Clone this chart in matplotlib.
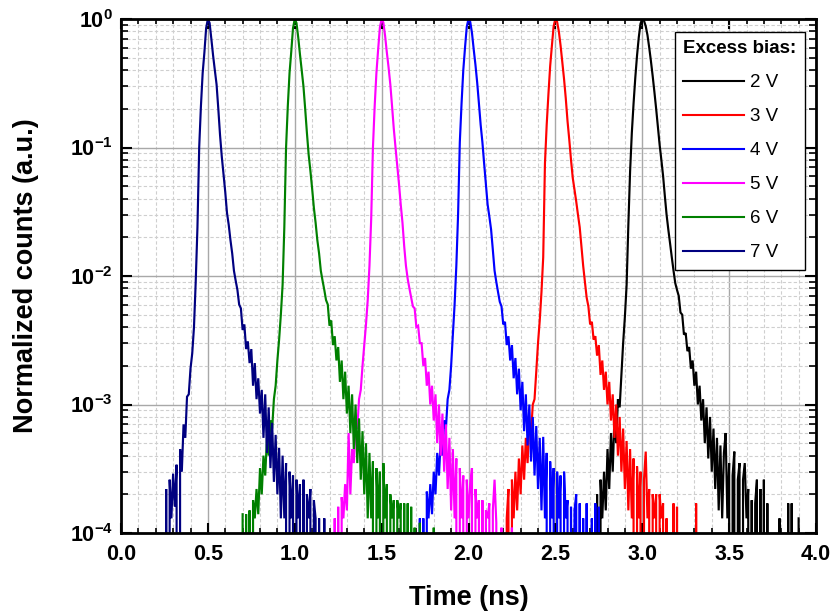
import numpy as np
import matplotlib
matplotlib.use("Agg")
import matplotlib.pyplot as plt
from matplotlib.ticker import MultipleLocator, LogLocator, FuncFormatter, NullFormatter

plt.rcParams['font.family'] = ['Liberation Sans', 'DejaVu Sans']
plt.rcParams['mathtext.fontset'] = 'custom'
plt.rcParams['mathtext.rm'] = 'Liberation Sans'
plt.rcParams['mathtext.bf'] = 'Liberation Sans:bold'

# ---------------- data ----------------
labels = ['2 V', '3 V', '4 V', '5 V', '6 V', '7 V']
colors = ['#000000', '#ff0000', '#0000ff', '#ff00ff', '#008000', '#000080']
peak_times = [3.0, 2.5, 2.0, 1.5, 1.0, 0.5]          # ns
# histogram bins relative to the peak: -0.30 ns ... +0.90 ns, 10 ps wide
bin_offsets = np.round(np.arange(-30, 91) * 0.01, 2)

counts_2V = [
    0, 0, 0, 0, 2.0e-4, 0, 2.6e-4, 1.3e-4, 3.0e-4, 1.5e-4,
    4.5e-4, 2.2e-4, 6.0e-4, 3.0e-4, 8.0e-4, 5.0e-4, 1.1e-3, 9.5e-4, 1.7e-3, 3.0e-3,
    4.8e-3, 8.5e-3, 0.025, 0.065, 0.13, 0.22, 0.35, 0.52, 0.72, 0.92,
    1.0,
    0.97, 0.88, 0.75, 0.60, 0.47, 0.36, 0.27, 0.20, 0.145, 0.105,
    0.080, 0.060, 0.042, 0.030, 0.023, 0.018, 0.014, 0.011, 0.0088, 0.0078,
    0.0070, 0.0052, 0.0050, 0.0035, 0.0036, 0.0026, 0.0028, 0.0019, 0.0022, 0.0014,
    0.0018, 0.0010, 0.0014, 0.00075, 0.0011, 0.00050, 0.00095, 0.00038, 0.00080, 0.00030,
    0.00065, 0.00022, 0.00055, 0.00015, 0.00048, 0.00013, 0.00042, 0.00060, 0.00013, 0.00035,
    0, 0.00028, 0.00043, 0, 0.00026, 0.00035, 0, 0.00026, 0.00035, 0.00013,
    0.00022, 0, 0.00018, 0, 0.00017, 0.00026, 0, 0.00022, 0, 0.00026,
    0, 0.00017, 0, 0, 0, 0, 0, 0, 0.00013, 0,
    0, 0, 0, 0.00017, 0, 0.00017, 0, 0, 0, 0.00013,
]

counts_3V = [
    0, 0, 1.3e-4, 2.2e-4, 0, 2.6e-4, 1.3e-4, 3.0e-4, 1.5e-4, 3.8e-4,
    2.0e-4, 4.8e-4, 2.6e-4, 5.5e-4, 3.5e-4, 7.0e-4, 6.0e-4, 1.0e-3, 1.1e-3, 1.8e-3,
    3.0e-3, 4.5e-3, 7.5e-3, 0.014, 0.075, 0.15, 0.26, 0.43, 0.62, 0.88,
    1.0,
    0.95, 0.80, 0.62, 0.46, 0.34, 0.24, 0.16, 0.115, 0.080, 0.058,
    0.047, 0.038, 0.030, 0.024, 0.017, 0.012, 0.0090, 0.0068, 0.0058, 0.0042,
    0.0044, 0.0032, 0.0034, 0.0024, 0.0029, 0.0017, 0.0022, 0.0013, 0.0018, 0.0010,
    0.0015, 0.00075, 0.0012, 0.00055, 0.0010, 0.00040, 0.00080, 0.00030, 0.00065, 0.00022,
    0.00052, 0.00015, 0.00045, 0.00013, 0.00038, 0, 0.00033, 0.00013, 0.00030, 0,
    0.00026, 0.00043, 0.00013, 0.00022, 0, 0.00020, 0.00013, 0.00020, 0, 0.00020,
    0.00013, 0.00017, 0, 0.00013, 0, 0, 0, 0.00017, 0, 0.00016,
    0, 0, 0, 0, 0, 0, 0, 0, 0, 0,
    0.00017, 0, 0, 0, 0, 0, 0, 0, 0, 0,
]

counts_4V = [
    0, 0, 1.3e-4, 0, 1.3e-4, 0, 2.1e-4, 1.3e-4, 2.4e-4, 1.4e-4,
    3.0e-4, 2.0e-4, 4.2e-4, 2.8e-4, 5.2e-4, 4.0e-4, 7.5e-4, 6.5e-4, 1.1e-3, 1.3e-3,
    2.0e-3, 3.5e-3, 6.0e-3, 0.012, 0.030, 0.11, 0.22, 0.40, 0.60, 0.87,
    1.0,
    0.95, 0.78, 0.58, 0.44, 0.32, 0.22, 0.15, 0.11, 0.075, 0.052,
    0.036, 0.029, 0.023, 0.016, 0.011, 0.0090, 0.0075, 0.0063, 0.0058, 0.0042,
    0.0044, 0.0029, 0.0034, 0.0022, 0.0029, 0.0016, 0.0023, 0.0012, 0.0019, 0.00090,
    0.0015, 0.00062, 0.0012, 0.00048, 0.0010, 0.00036, 0.00080, 0.00028, 0.00068, 0.00022,
    0.00055, 0.00015, 0.00056, 0.00013, 0.00042, 0, 0.00036, 0.00013, 0.00032, 0,
    0.00030, 0.00013, 0.00028, 0, 0.00030, 0.00013, 0.00018, 0, 0.00016, 0,
    0.00015, 0.00020, 0, 0.00017, 0, 0.00013, 0, 0.00017, 0, 0,
    0.00013, 0, 0.00017, 0, 0.00016, 0, 0, 0, 0, 0,
    0, 0, 0, 0, 0, 0, 0, 0, 0, 0,
]

counts_5V = [
    0, 0, 0, 1.3e-4, 0, 1.6e-4, 0, 1.9e-4, 1.3e-4, 2.4e-4,
    1.5e-4, 6.0e-4, 2.0e-4, 4.5e-4, 3.5e-4, 7.0e-4, 6.5e-4, 1.1e-3, 1.3e-3, 2.0e-3,
    2.9e-3, 4.2e-3, 6.5e-3, 0.012, 0.028, 0.10, 0.21, 0.38, 0.58, 0.86,
    1.0,
    0.94, 0.74, 0.55, 0.42, 0.31, 0.21, 0.14, 0.10, 0.072, 0.052,
    0.036, 0.026, 0.017, 0.012, 0.0095, 0.0080, 0.0068, 0.0058, 0.0056, 0.0040,
    0.0041, 0.0030, 0.0030, 0.0020, 0.0023, 0.0014, 0.0018, 0.0010, 0.0014, 0.00075,
    0.0012, 0.00050, 0.0010, 0.00040, 0.00085, 0.00030, 0.00070, 0.00022, 0.00055, 0.00015,
    0.00045, 0.00013, 0.00038, 0, 0.00032, 0.00013, 0.00028, 0, 0.00026, 0.00013,
    0.00024, 0.00032, 0, 0.00022, 0.00013, 0.00018, 0, 0.00018, 0, 0.00015,
    0.00013, 0.00017, 0, 0.00015, 0.00026, 0.00012, 0, 0, 0.00011, 0,
    0, 0, 0, 0, 0.00011, 0, 0, 0, 0, 0,
    0, 0, 0, 0, 0, 0, 0, 0, 0, 0,
]

counts_6V = [
    1.4e-4, 0, 1.4e-4, 0, 1.5e-4, 0, 1.8e-4, 1.3e-4, 2.2e-4, 1.4e-4,
    3.2e-4, 2.0e-4, 4.0e-4, 2.8e-4, 5.5e-4, 4.0e-4, 7.5e-4, 6.5e-4, 1.1e-3, 1.4e-3,
    2.2e-3, 3.2e-3, 5.0e-3, 8.5e-3, 0.024, 0.10, 0.21, 0.38, 0.56, 0.85,
    1.0,
    0.93, 0.72, 0.53, 0.40, 0.30, 0.20, 0.13, 0.088, 0.066, 0.048,
    0.034, 0.026, 0.019, 0.015, 0.011, 0.0092, 0.0078, 0.0065, 0.0060, 0.0041,
    0.0045, 0.0029, 0.0034, 0.0022, 0.0028, 0.0015, 0.0022, 0.0011, 0.0018, 0.00085,
    0.0014, 0.00060, 0.0012, 0.00045, 0.0010, 0.00035, 0.00078, 0.00026, 0.00062, 0.00020,
    0.00050, 0.00013, 0.00042, 0.00013, 0.00036, 0, 0.00032, 0.00013, 0.00030, 0,
    0.00035, 0.00013, 0.00024, 0, 0.00020, 0.00013, 0.00018, 0, 0.00018, 0.00013,
    0.00017, 0, 0.00017, 0, 0.00017, 0, 0.00016, 0, 0.00011, 0,
    0, 0.00012, 0, 0, 0, 0, 0, 0, 0, 0.00011,
    0, 0, 0, 0, 0, 0, 0, 0, 0, 0,
]

counts_7V = [
    0, 0, 0, 0, 0, 0, 2.2e-4, 0, 2.6e-4, 1.3e-4,
    2.9e-4, 1.6e-4, 3.4e-4, 0, 4.5e-4, 3.0e-4, 7.0e-4, 5.5e-4, 1.15e-3, 1.2e-3,
    1.9e-3, 2.5e-3, 4.0e-3, 9.0e-3, 0.024, 0.10, 0.21, 0.38, 0.55, 0.85,
    1.0,
    0.93, 0.70, 0.52, 0.40, 0.31, 0.20, 0.125, 0.085, 0.062, 0.045,
    0.031, 0.025, 0.019, 0.015, 0.011, 0.0092, 0.0078, 0.0060, 0.0056, 0.0038,
    0.0042, 0.0027, 0.0031, 0.0021, 0.0027, 0.0014, 0.0021, 0.0011, 0.0016, 0.00085,
    0.0013, 0.00055, 0.0012, 0.00042, 0.00095, 0.00032, 0.00072, 0.00025, 0.00058, 0.00020,
    0.00046, 0.00013, 0.00040, 0.00013, 0.00035, 0, 0.00030, 0.00013, 0.00028, 0,
    0.00026, 0.00013, 0.00024, 0, 0.00026, 0, 0.00020, 0.00013, 0.00022, 0,
    0.00018, 0.00013, 0, 0.00013, 0, 0, 0.00013, 0, 0, 0,
    0, 0, 0, 0, 0, 0, 0, 0, 0, 0,
    0, 0, 0, 0, 0, 0, 0, 0, 0, 0,
]

series = [counts_2V, counts_3V, counts_4V, counts_5V, counts_6V, counts_7V]

x_ticks = [0.0, 0.5, 1.0, 1.5, 2.0, 2.5, 3.0, 3.5, 4.0]
x_label = 'Time (ns)'
y_label = 'Normalized counts (a.u.)'
legend_title = 'Excess bias:'

# ---------------- figure ----------------
fig = plt.figure(figsize=(8.32, 6.15), dpi=100)
ax = fig.add_axes([121/832, 1 - 533/615, (816-121)/832, (533-19)/615])

for cnt, pt, col, lab in zip(series, peak_times, colors, labels):
    t = pt + bin_offsets
    ax.plot(t, np.array(cnt, dtype=float), color=col, lw=1.55, label=lab,
            solid_joinstyle='miter')

ax.set_yscale('log', nonpositive='clip')
ax.set_xlim(0, 4.0)
ax.set_ylim(1e-4, 1.0)

ax.xaxis.set_minor_locator(MultipleLocator(0.1))
ax.set_xticks(x_ticks)
ax.set_xticklabels([f'{v:.1f}' for v in x_ticks])
ax.yaxis.set_major_locator(LogLocator(base=10, numticks=10))
ax.yaxis.set_minor_locator(LogLocator(base=10, subs=np.arange(2, 10), numticks=20))
ax.yaxis.set_major_formatter(FuncFormatter(lambda v, p: r'$\mathbf{10^{%d}}$' % int(round(np.log10(v)))))
ax.yaxis.set_minor_formatter(NullFormatter())

ax.grid(True, which='major', color='#a8a8a8', lw=1.0, ls='-')
ax.grid(True, which='minor', color='#cfcfcf', lw=0.8, ls=(0, (3, 2)))
ax.set_axisbelow(True)

ax.tick_params(axis='both', which='both', direction='in', top=True, right=True)
ax.tick_params(axis='x', which='major', length=7, width=1.5, pad=8, labelsize=15.5)
ax.tick_params(axis='x', which='minor', length=3.6, width=1.2)
ax.tick_params(axis='y', which='major', length=8, width=1.5, pad=6, labelsize=15.5)
ax.tick_params(axis='y', which='minor', length=5, width=1.2)
for lbl in ax.get_xticklabels():
    lbl.set_fontweight('bold')

for s in ax.spines.values():
    s.set_linewidth(2.0)
    s.set_color('black')

ax.set_xlabel(x_label, fontsize=19.5, fontweight='bold', labelpad=14)
ax.set_ylabel(y_label, fontsize=19.5, fontweight='bold', labelpad=22)

leg = ax.legend(loc='upper right', bbox_to_anchor=((805-121)/695, (533-32)/514),
                borderaxespad=0, frameon=True, fancybox=False, fontsize=13.5,
                title=legend_title, title_fontproperties={'weight': 'bold', 'size': 13.5},
                alignment='left', handlelength=3.25, handletextpad=0.3,
                labelspacing=0.9, borderpad=0.45)
leg.get_frame().set_edgecolor('black')
leg.get_frame().set_linewidth(1.0)
leg.get_frame().set_facecolor('white')
leg.get_frame().set_alpha(1.0)
for line in leg.get_lines():
    line.set_linewidth(1.5)

fig.savefig('out.png', dpi=100)
